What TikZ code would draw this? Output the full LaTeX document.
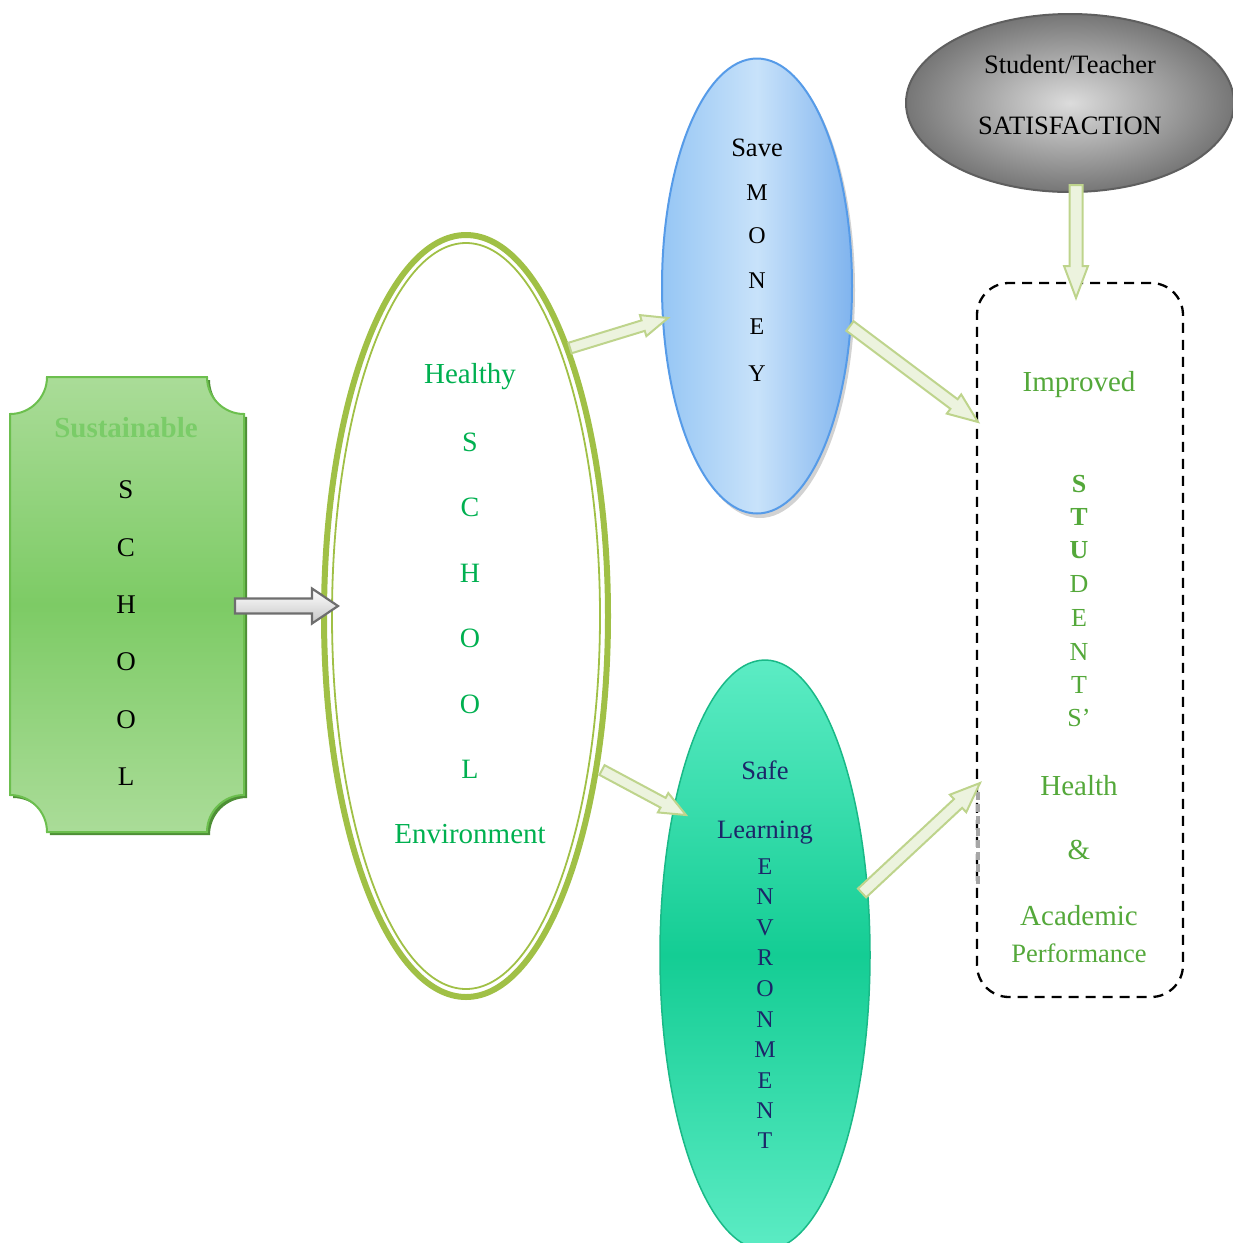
\documentclass[tikz,border=0pt]{standalone}
\usepackage{fontspec}
\setmainfont{Liberation Serif}
\usetikzlibrary{shapes.geometric,calc}
\definecolor{hgreen}{RGB}{0,176,80}
\definecolor{igreen}{RGB}{84,168,58}
\definecolor{sgreen}{RGB}{122,204,104}
\definecolor{navy}{RGB}{28,38,105}
\definecolor{olive}{RGB}{160,192,70}
\definecolor{boxborder}{RGB}{108,191,78}
\definecolor{boxshadow}{RGB}{78,143,54}
\definecolor{boxlight}{RGB}{170,220,152}
\definecolor{boxmid}{RGB}{125,203,101}
\definecolor{blueborder}{RGB}{86,155,232}
\definecolor{blueleft}{RGB}{150,198,244}
\definecolor{blueright}{RGB}{128,180,238}
\definecolor{bluemid}{RGB}{200,226,250}
\definecolor{tealborder}{RGB}{25,185,135}
\definecolor{teallight}{RGB}{92,236,196}
\definecolor{tealmid}{RGB}{20,205,148}
\definecolor{grayborder}{RGB}{95,95,95}
\definecolor{grayin}{RGB}{220,220,220}
\definecolor{grayout}{RGB}{118,118,118}
\definecolor{arrfill}{RGB}{236,243,222}
\definecolor{arrdraw}{RGB}{190,212,140}
\definecolor{garrdraw}{RGB}{110,110,110}
\newcommand{\blockarr}[6]{%
  \coordinate (ba-c) at ($(#3)!#6pt!(#2)$);
  \draw[#1] ($(#2)!#4pt!90:(#3)$) -- ($(ba-c)!#4pt!90:(#3)$) -- ($(ba-c)!#5pt!90:(#3)$)
    -- (#3) -- ($(ba-c)!#5pt!-90:(#3)$) -- ($(ba-c)!#4pt!-90:(#3)$) -- ($(#2)!#4pt!-90:(#3)$) -- cycle;}
\tikzset{
  fa/.style={font=\fontsize{29}{34}\selectfont, inner sep=0pt},
  fb/.style={font=\fontsize{26.5}{31}\selectfont, inner sep=0pt},
  fc/.style={font=\fontsize{24}{28}\selectfont, inner sep=0pt},
  garrow/.style={line width=2pt, draw=arrdraw, fill=arrfill, line join=miter},
  grarrow/.style={line width=2.2pt, draw=garrdraw, top color=white, bottom color=gray!45, line join=miter},
}
\begin{document}
\begin{tikzpicture}[x=1pt,y=-1pt]
\useasboundingbox (0,0) rectangle (1233,1243);

% Sustainable SCHOOL plaque
\begin{scope}[shift={(3,3)}]
\fill[boxshadow] (10,414) arc[start angle=90, end angle=0, radius=37] -- (207,377)
  arc[start angle=180, end angle=90, radius=37] -- (244,795)
  arc[start angle=270, end angle=180, radius=37] -- (47,832)
  arc[start angle=0, end angle=-90, radius=37] -- cycle;
\end{scope}
\path[draw=boxborder, line width=2pt, top color=boxlight, bottom color=boxlight, middle color=boxmid]
  (10,414) arc[start angle=90, end angle=0, radius=37] -- (207,377)
  arc[start angle=180, end angle=90, radius=37] -- (244,795)
  arc[start angle=270, end angle=180, radius=37] -- (47,832)
  arc[start angle=0, end angle=-90, radius=37] -- cycle;
\node[fa, font=\fontsize{29}{34}\selectfont\bfseries, text=sgreen] (sust) at (126,428) {Sustainable};
\foreach \t/\y [count=\i] in {S/490, C/548, H/605, O/662, O/720, L/777}
  \node[fa, font=\fontsize{27}{32}\selectfont] (sl\i) at (126,\y) {\t};

% Healthy SCHOOL ellipse
\node[ellipse, draw=olive, line width=6pt, minimum width=284pt, minimum height=762pt, inner sep=0pt] (hs) at (466,616) {};
\draw[olive, line width=1.8pt] (hs.center) ellipse[x radius=134, y radius=373];
\node[fa, text=hgreen] (hh) at (470,377) {Healthy};
\foreach \t/\y [count=\i] in {S/442, C/507, H/573, O/638, O/704, L/769}
  \node[fa, font=\fontsize{28}{33}\selectfont, text=hgreen] (hl\i) at (470,\y) {\t};
\node[fa, text=hgreen] (he) at (470,834) {Environment};

% Save MONEY ellipse (with soft shadow)
\fill[gray!35] (760,290) ellipse[x radius=95, y radius=228];
\node[ellipse, draw=blueborder, line width=2pt, minimum width=190pt, minimum height=455pt,
  left color=blueleft, right color=blueright, middle color=bluemid] (sm) at (757,286) {};
\node[fb] (save) at (757,148) {Save};
\foreach \t/\y [count=\i] in {M/193, O/236, N/281, E/327, Y/374}
  \node[fc] (ml\i) at (757,\y) {\t};

% Safe Learning ENVRONMENT ellipse
\node[ellipse, draw=tealborder, line width=1.5pt, minimum width=210pt, minimum height=590pt,
  top color=teallight, bottom color=teallight, middle color=tealmid] (se) at (765,955) {};
\node[fb, text=navy] (safe) at (765,770) {Safe};
\node[fb, text=navy] (learn) at (765,833) {Learning};
\foreach \t/\y [count=\i] in {E/867, N/897, V/928, R/958, O/989, N/1020, M/1050, E/1081, N/1111, T/1141}
  \node[fc, text=navy] (el\i) at (765,\y) {\t};

% Student/Teacher SATISFACTION
\node[ellipse, draw=grayborder, line width=2pt, minimum width=328pt, minimum height=178pt,
  inner color=grayin, outer color=grayout] (st) at (1070,103) {};
\node[fb] (stt) at (1070,64) {Student/Teacher};
\node[fb] (sat) at (1070,126) {SATISFACTION};

% Dashed box
\node[draw, dash pattern=on 10pt off 7pt, line width=2.3pt, rounded corners=32pt,
  minimum width=206pt, minimum height=714pt] (ib) at (1080,640) {};
\coordinate (shA) at (978,792); \coordinate (shB) at (978,885);
\draw[gray!70, line width=4pt, dash pattern=on 8pt off 4pt] (shA) -- (shB);
\node[fa, text=igreen] (imp) at (1079,385) {Improved};
\foreach \t/\y [count=\i] in {\textbf{S}/484, \textbf{T}/517, \textbf{U}/550, D/584, E/618, N/652, T/685, S’/718}
  \node[fa, font=\fontsize{26}{30}\selectfont, text=igreen] (il\i) at (1079,\y) {\t};
\node[fa, text=igreen] (hea) at (1079,786) {Health};
\node[fa, text=igreen] (amp) at (1079,850) {\&};
\node[fa, text=igreen] (aca) at (1079,916) {Academic};
\node[fb, text=igreen] (perf) at (1079,953) {Performance};

% arrow end points
\coordinate (g1s) at (235,606);  \coordinate (g1e) at (338,606);
\coordinate (a1s) at (570,348);  \coordinate (a1e) at (668,318);
\coordinate (a2s) at (602,770);  \coordinate (a2e) at (686,815);
\coordinate (a3s) at (850,326);  \coordinate (a3e) at (978,422);
\coordinate (a4s) at (862,893);  \coordinate (a4e) at (980,783);
\coordinate (a5s) at (1076,185); \coordinate (a5e) at (1076,298);

\blockarr{grarrow}{g1s}{g1e}{7.5}{17.5}{26}
\blockarr{garrow}{a1s}{a1e}{5.5}{11}{26}
\blockarr{garrow}{a2s}{a2e}{5.5}{11}{26}
\blockarr{garrow}{a3s}{a3e}{6}{12}{30}
\blockarr{garrow}{a4s}{a4e}{6}{12}{30}
\blockarr{garrow}{a5s}{a5e}{6.5}{12}{32}
\end{tikzpicture}
\end{document}
